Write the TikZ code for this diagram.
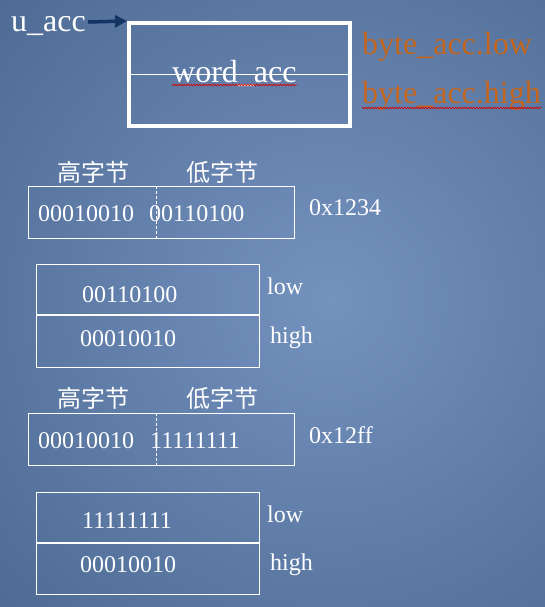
\documentclass[tikz,border=0pt]{standalone}
\usepackage{fontspec}
\setmainfont{Liberation Serif}
\newfontfamily\cjk{Noto Sans CJK SC}
\usetikzlibrary{decorations.pathmorphing,arrows.meta}
\definecolor{bginner}{RGB}{116,146,190}
\definecolor{bgouter}{RGB}{38,66,106}
\definecolor{accorange}{RGB}{196,102,30}
\definecolor{arrowblue}{RGB}{20,52,100}
\pgfdeclareradialshading{bgshade}{\pgfpoint{0bp}{0bp}}{color(0bp)=(bginner); color(50bp)=(bgouter)}
\tikzset{
  txt/.style={text=white, inner sep=0pt, anchor=base west, font=\fontsize{24}{24}\selectfont},
  bigtxt/.style={inner sep=0pt, anchor=base west, font=\fontsize{32}{32}\selectfont},
  cjktxt/.style={text=white, inner sep=0pt, font=\cjk\fontsize{24}{24}\selectfont},
  cell/.style={draw=white, line width=1.2pt, inner sep=0pt, anchor=north west},
  divider/.style={draw=white, line width=1pt, dash pattern=on 3pt off 2pt},
  squig/.style={draw=red!85!black, line width=0.7pt, decorate, decoration={snake, segment length=3pt, amplitude=0.8pt}},
  ptr/.style={draw=arrowblue, line width=3.5pt, -{Triangle[length=12pt, width=12pt]}}
}
\begin{document}
\begin{tikzpicture}[x=1pt,y=-1pt]
\useasboundingbox (0,0) rectangle (545,607);
\begin{scope}
  \clip (0,0) rectangle (545,607);
  \shade[shading=bgshade] (330,300) circle[radius=465pt];
\end{scope}

% top: word_acc box
\node[draw=white, line width=4pt, inner sep=0pt, minimum width=221pt, minimum height=103pt] (wbox) at (239.5,74.5) {};
\draw[white, line width=1pt] (wbox.west |- 0,75) coordinate (wl) -- (wbox.east |- 0,75) coordinate (wr);
\node[bigtxt, text=white] (wacc) at (172,83) {word\_acc};
\draw[squig] ([yshift=-2pt]wacc.base west) -- ([yshift=-2pt]wacc.base east);
\node[bigtxt, text=white] (uacc) at (11,32) {u\_acc};
\coordinate (ustart) at (88,22);
\draw[ptr] (ustart) -- (wbox.north west);
\node[bigtxt, text=accorange] (blow) at (362,55) {byte\_acc.low};
\node[bigtxt, text=accorange] (bhigh) at (362,103) {byte\_acc.high};
\draw[squig] ([yshift=-5pt]bhigh.base west) -- ([yshift=-5pt]bhigh.base east);

% section 1
\node[cjktxt] (hi1) at (93.5,172) {高字节};
\node[cjktxt] (lo1) at (222,172) {低字节};
\node[cell, minimum width=266pt, minimum height=52pt] (b1) at (28,186) {};
\coordinate (d1t) at (156,186);
\coordinate (d1b) at (156,238);
\draw[divider] (d1t) -- (d1b);
\node[txt] (b1h) at (38,221) {00010010};
\node[txt] (b1l) at (149,221) {00110100};
\node[txt] (v1) at (309,215) {0x1234};

\node[cell, minimum width=223pt, minimum height=103pt] (b2) at (36,264) {};
\draw[white, line width=1.2pt] (b2.west |- 0,315) coordinate (m2l) -- (b2.east |- 0,315) coordinate (m2r);
\node[txt] (b2l) at (82,302) {00110100};
\node[txt] (b2h) at (80,346) {00010010};
\node[txt] (low1) at (267,294) {low};
\node[txt] (high1) at (270,343) {high};

% section 2
\node[cjktxt] (hi2) at (93.5,398) {高字节};
\node[cjktxt] (lo2) at (222,398) {低字节};
\node[cell, minimum width=266pt, minimum height=52pt] (b3) at (28,413) {};
\coordinate (d3t) at (156,413);
\coordinate (d3b) at (156,465);
\draw[divider] (d3t) -- (d3b);
\node[txt] (b3h) at (38,448) {00010010};
\node[txt] (b3l) at (150,448) {11111111};
\node[txt] (v2) at (309,443) {0x12ff};

\node[cell, minimum width=223pt, minimum height=102pt] (b4) at (36,492) {};
\draw[white, line width=1.2pt] (b4.west |- 0,543) coordinate (m4l) -- (b4.east |- 0,543) coordinate (m4r);
\node[txt] (b4l) at (82,528) {11111111};
\node[txt] (b4h) at (80,572) {00010010};
\node[txt] (low2) at (267,522) {low};
\node[txt] (high2) at (270,570) {high};
\end{tikzpicture}
\end{document}
